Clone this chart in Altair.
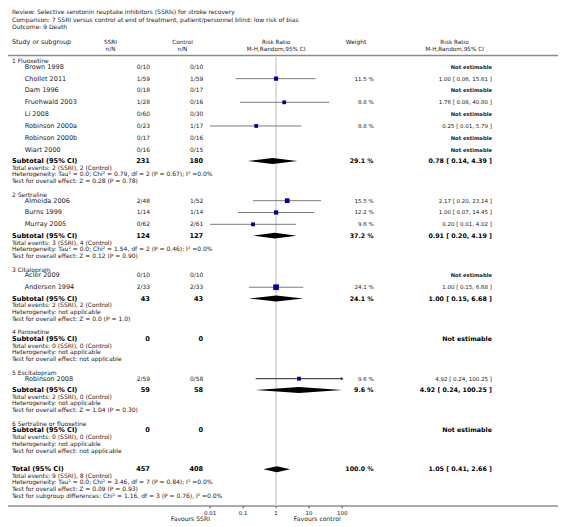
import altair as alt
import pandas as pd

# ---------------- data ----------------
review = "Selective serotonin reuptake inhibitors (SSRIs) for stroke recovery"
comparison = "7 SSRI versus control at end of treatment, patient/personnel blind: low risk of bias"
outcome = "9 Death"

subgroups = ["1 Fluoxetine", "2 Sertraline", "3 Citalopram", "4 Paroxetine",
             "5 Escitalopram", "6 Sertraline or fluoxetine"]

study_names = ["Brown 1998", "Chollet 2011", "Dam 1996", "Fruehwald 2003", "Li 2008",
               "Robinson 2000a", "Robinson 2000b", "Wiart 2000",
               "Almeida 2006", "Burns 1999", "Murray 2005",
               "Acler 2009", "Andersen 1994",
               "Robinson 2008"]
study_group = [0, 0, 0, 0, 0, 0, 0, 0, 1, 1, 1, 2, 2, 4]
ssri_events = [0, 1, 0, 1, 0, 0, 0, 0, 2, 1, 0, 0, 2, 2]
ssri_total = [10, 59, 18, 28, 60, 23, 17, 16, 48, 14, 62, 10, 33, 59]
ctrl_events = [0, 1, 0, 0, 0, 1, 0, 0, 1, 1, 2, 0, 2, 0]
ctrl_total = [10, 59, 17, 16, 30, 17, 16, 15, 52, 14, 61, 10, 33, 58]
study_rr = [None, 1.00, None, 1.76, None, 0.25, None, None, 2.17, 1.00, 0.20, None, 1.00, 4.92]
study_lo = [None, 0.06, None, 0.08, None, 0.01, None, None, 0.20, 0.07, 0.01, None, 0.15, 0.24]
study_hi = [None, 15.61, None, 40.80, None, 5.79, None, None, 23.14, 14.45, 4.02, None, 6.68, 100.25]
study_weight = [None, 11.5, None, 8.8, None, 8.8, None, None, 15.5, 12.2, 9.6, None, 24.1, 9.6]

sub_ssri_n = [231, 124, 43, 0, 59, 0]
sub_ctrl_n = [180, 127, 43, 0, 58, 0]
sub_weight = [29.1, 37.2, 24.1, None, 9.6, None]
sub_rr = [0.78, 0.91, 1.00, None, 4.92, None]
sub_lo = [0.14, 0.20, 0.15, None, 0.24, None]
sub_hi = [4.39, 4.19, 6.68, None, 100.25, None]
sub_events = ["Total events: 2 (SSRI), 2 (Control)", "Total events: 3 (SSRI), 4 (Control)",
              "Total events: 2 (SSRI), 2 (Control)", "Total events: 0 (SSRI), 0 (Control)",
              "Total events: 2 (SSRI), 0 (Control)", "Total events: 0 (SSRI), 0 (Control)"]
sub_het = ["Heterogeneity: Tau\u00b2 = 0.0; Chi\u00b2 = 0.79, df = 2 (P = 0.67); I\u00b2 =0.0%",
           "Heterogeneity: Tau\u00b2 = 0.0; Chi\u00b2 = 1.54, df = 2 (P = 0.46); I\u00b2 =0.0%",
           "Heterogeneity: not applicable", "Heterogeneity: not applicable",
           "Heterogeneity: not applicable", "Heterogeneity: not applicable"]
sub_test = ["Test for overall effect: Z = 0.28 (P = 0.78)", "Test for overall effect: Z = 0.12 (P = 0.90)",
            "Test for overall effect: Z = 0.0 (P = 1.0)", "Test for overall effect: not applicable",
            "Test for overall effect: Z = 1.04 (P = 0.30)", "Test for overall effect: not applicable"]

total_ssri_n = 457
total_ctrl_n = 408
total_weight = 100.0
total_rr, total_lo, total_hi = 1.05, 0.41, 2.66
total_lines = ["Total events: 9 (SSRI), 8 (Control)",
               "Heterogeneity: Tau\u00b2 = 0.0; Chi\u00b2 = 3.46, df = 7 (P = 0.84); I\u00b2 =0.0%",
               "Test for overall effect: Z = 0.09 (P = 0.93)",
               "Test for subgroup differences: Chi\u00b2 = 1.16, df = 3 (P = 0.76), I\u00b2 =0.0%"]

tick_values = [0.01, 0.1, 1, 10, 100]
tick_labels = ["0.01", "0.1", "1", "10", "100"]
favours_left = "Favours SSRI"
favours_right = "Favours control"

# ---------------- layout ----------------
FONT = "DejaVu Sans"
TXT = "#1a1a1a"
OX, OY = 8, 8          # page margin
W, H = 558, 519

def px(x):
    return x - OX

def rr_text(rr, lo, hi):
    return f"{rr:.2f} [ {lo:.2f}, {hi:.2f} ]"

XS = alt.Scale(type="log", domain=[0.01, 100], range=[px(213), px(347)], clamp=True)
YS = alt.Scale(domain=[OY, OY + H], range=[0, H])

study_rows = []
sub_rows = []
desc_rows = []
group_rows = []

y = 58.0
for g, gname in enumerate(subgroups):
    group_rows.append({"y": y, "t": gname})
    idx = [i for i, sg in enumerate(study_group) if sg == g]
    if idx:
        yy = y + 5.9
        for k, i in enumerate(idx):
            study_rows.append({
                "y": yy, "name": study_names[i],
                "s": f"{ssri_events[i]}/{ssri_total[i]}",
                "c": f"{ctrl_events[i]}/{ctrl_total[i]}",
                "rr": study_rr[i], "lo": study_lo[i],
                "hi": study_hi[i], "w": study_weight[i],
                "wt": "" if study_weight[i] is None else f"{study_weight[i]:.1f} %",
                "rt": "" if study_rr[i] is None else rr_text(study_rr[i], study_lo[i], study_hi[i]),
                "ne": "Not estimable" if study_rr[i] is None else "",
            })
            last = yy
            yy += 12.0
        ys = last + 11.5
    else:
        ys = y + 6.6
    sub_rows.append({
        "y": ys, "name": "Subtotal (95% CI)",
        "s": str(sub_ssri_n[g]), "c": str(sub_ctrl_n[g]),
        "rr": sub_rr[g], "lo": sub_lo[g], "hi": sub_hi[g],
        "wt": "" if sub_weight[g] is None else f"{sub_weight[g]:.1f} %",
        "rt": "Not estimable" if sub_rr[g] is None else rr_text(sub_rr[g], sub_lo[g], sub_hi[g]),
    })
    yd = ys + 7.0
    for t in (sub_events[g], sub_het[g], sub_test[g]):
        desc_rows.append({"y": yd, "t": t})
        last_d = yd
        yd += 6.7
    y = last_d + 14.0

yt = last_d + 19.0
sub_rows.append({
    "y": yt, "name": "Total (95% CI)", "s": str(total_ssri_n), "c": str(total_ctrl_n),
    "rr": total_rr, "lo": total_lo, "hi": total_hi,
    "wt": f"{total_weight:.1f} %", "rt": rr_text(total_rr, total_lo, total_hi),
})
yd = yt + 6.7
for t in total_lines:
    desc_rows.append({"y": yd, "t": t})
    yd += 6.7

AXIS_Y = 509.5
TICK_LABEL_Y = 516.5
FAV_Y = 523.0
HEADER_LINE_Y = 52.5

study_df = pd.DataFrame(study_rows)
sub_df = pd.DataFrame(sub_rows)
desc_df = pd.DataFrame(desc_rows)
group_df = pd.DataFrame(group_rows)


def text_layer(df, field, x, align="left", size=6.0, weight="normal", color=TXT):
    d = df[df[field].astype(str) != ""]
    return alt.Chart(d).mark_text(
        align=align, baseline="middle", font=FONT, fontSize=size,
        fontWeight=weight, color=color
    ).encode(
        x=alt.value(px(x)),
        y=alt.Y("y:Q", scale=YS, axis=None),
        text=alt.Text(f"{field}:N"),
    )

layers = []

# header block
hdr = pd.DataFrame([
    {"y": 8.5, "t": "Review:  " + review},
    {"y": 16.0, "t": "Comparison:  " + comparison},
    {"y": 23.5, "t": "Outcome:  " + outcome},
])
layers.append(text_layer(hdr, "t", 12, size=6.1))

colh = pd.DataFrame([
    {"y": 38.5, "a": "Study or subgroup", "b": "SSRI", "c": "Control", "d": "Risk Ratio",
     "e": "Weight", "f": "Risk Ratio"},
    {"y": 46.0, "a": "", "b": "n/N", "c": "n/N", "d": "M-H,Random,95% CI",
     "e": "", "f": "M-H,Random,95% CI"},
])
layers.append(text_layer(colh, "a", 12, size=6.5))
layers.append(text_layer(colh, "b", 112, align="center", size=5.8))
layers.append(text_layer(colh, "c", 185, align="center", size=5.8))
layers.append(text_layer(colh, "d", 280, align="center", size=5.8))
layers.append(text_layer(colh, "e", 361, align="center", size=6.0))
layers.append(text_layer(colh, "f", 461, align="center", size=5.8))

# lines: header rule, axis rule
rules = pd.DataFrame([{"y": HEADER_LINE_Y, "sw": 1.6, "col": "#8a8a8a"},
                      {"y": AXIS_Y, "sw": 1.0, "col": "#555555"}])
for _, r in rules.iterrows():
    layers.append(alt.Chart(pd.DataFrame([{"y": r["y"]}])).mark_rule(
        color=r["col"], strokeWidth=r["sw"]).encode(
        x=alt.value(0), x2=alt.value(W), y=alt.Y("y:Q", scale=YS, axis=None)))

# null line at RR = 1
layers.append(alt.Chart(pd.DataFrame([{"v": 1.0, "y": HEADER_LINE_Y + 1, "y2": AXIS_Y}])).mark_rule(
    color="#dcdcdc", strokeWidth=2).encode(
    x=alt.X("v:Q", scale=XS, axis=None),
    y=alt.Y("y:Q", scale=YS, axis=None), y2="y2:Q"))

# left texts
layers.append(text_layer(group_df, "t", 12, size=6.1))
layers.append(text_layer(study_df, "name", 25, size=6.6))
layers.append(text_layer(study_df, "s", 152, align="right", size=6.0))
layers.append(text_layer(study_df, "c", 206, align="right", size=6.0))
layers.append(text_layer(study_df, "wt", 379, align="right", size=5.6))
layers.append(text_layer(study_df, "rt", 499, align="right", size=5.6))
layers.append(text_layer(study_df, "ne", 499, align="right", size=5.3, weight="bold"))
layers.append(text_layer(desc_df, "t", 12, size=6.1))

layers.append(text_layer(sub_df, "name", 12, size=6.7, weight="bold", color="#000"))
layers.append(text_layer(sub_df, "s", 152, align="right", size=6.7, weight="bold", color="#000"))
layers.append(text_layer(sub_df, "c", 206, align="right", size=6.7, weight="bold", color="#000"))
layers.append(text_layer(sub_df, "wt", 379, align="right", size=6.4, weight="bold", color="#000"))
layers.append(text_layer(sub_df, "rt", 499, align="right", size=6.4, weight="bold", color="#000"))

# forest: CI lines
ci = study_df.dropna(subset=["rr"]).copy()
ci["hi_c"] = ci["hi"].clip(upper=100)
ci["col"] = ["#222222" if h > 100 else "#7a7a7a" for h in ci["hi"]]
layers.append(alt.Chart(ci).mark_rule(strokeWidth=1).encode(
    x=alt.X("lo:Q", scale=XS, axis=None), x2="hi_c:Q",
    y=alt.Y("y:Q", scale=YS, axis=None),
    color=alt.Color("col:N", scale=None)))
arrows = ci[ci["hi"] > 100]
layers.append(alt.Chart(arrows).mark_point(shape="triangle-right", filled=True, size=10,
                                            color="#222222", opacity=1).encode(
    x=alt.X("hi_c:Q", scale=XS, axis=None),
    y=alt.Y("y:Q", scale=YS, axis=None)))
layers.append(alt.Chart(ci).mark_square(color="#0000a0", opacity=1).encode(
    x=alt.X("rr:Q", scale=XS, axis=None),
    y=alt.Y("y:Q", scale=YS, axis=None),
    size=alt.Size("w:Q", scale=alt.Scale(domain=[0, 25], range=[4, 34]), legend=None)))

# diamonds
dia = []
half = 3.0
for k, r in sub_df.dropna(subset=["rr"]).reset_index(drop=True).iterrows():
    hi = min(r["hi"], 100)
    dia += [{"id": k, "x": r["lo"], "y1": r["y"], "y2": r["y"]},
            {"id": k, "x": r["rr"], "y1": r["y"] - half, "y2": r["y"] + half},
            {"id": k, "x": hi, "y1": r["y"], "y2": r["y"]}]
layers.append(alt.Chart(pd.DataFrame(dia)).mark_area(color="#000", orient="vertical", opacity=1).encode(
    x=alt.X("x:Q", scale=XS, axis=None),
    y=alt.Y("y1:Q", scale=YS, axis=None), y2="y2:Q",
    detail="id:N"))

# axis ticks and labels
tk = pd.DataFrame({"v": tick_values, "lab": tick_labels,
                   "y": [AXIS_Y] * len(tick_values), "y2": [AXIS_Y + 2.5] * len(tick_values),
                   "yl": [TICK_LABEL_Y] * len(tick_values)})
layers.append(alt.Chart(tk).mark_rule(color="#555", strokeWidth=1).encode(
    x=alt.X("v:Q", scale=XS, axis=None),
    y=alt.Y("y:Q", scale=YS, axis=None), y2="y2:Q"))
layers.append(alt.Chart(tk).mark_text(font=FONT, fontSize=5.6, color=TXT, baseline="middle").encode(
    x=alt.X("v:Q", scale=XS, axis=None),
    y=alt.Y("yl:Q", scale=YS, axis=None), text="lab:N"))
fav = pd.DataFrame([{"y": FAV_Y, "l": favours_left, "r": favours_right}])
layers.append(text_layer(fav, "l", 213, align="right", size=6.2))
layers.append(text_layer(fav, "r", 298, align="left", size=6.2))

chart = alt.layer(*layers).properties(
    width=W, height=H, padding=0,
    autosize=alt.AutoSizeParams(type="none"),
).configure_view(stroke=None)

chart.save("out.html", embed_options={"renderer": "svg", "actions": False})
